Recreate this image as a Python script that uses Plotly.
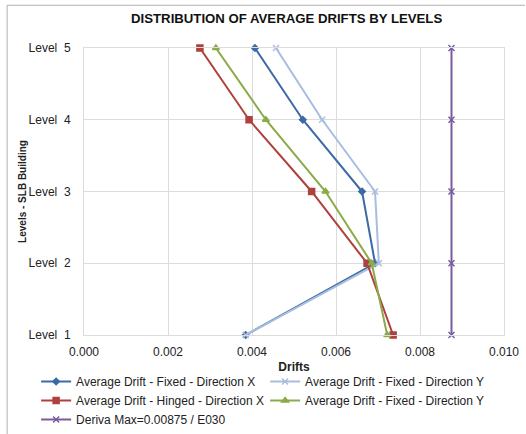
import plotly.graph_objects as go

# --- Data ---
levels = [1, 2, 3, 4, 5]
level_labels = ["Level\u00a0 1", "Level\u00a0 2", "Level\u00a0 3", "Level\u00a0 4", "Level\u00a0 5"]

fixed_x = [0.00385, 0.00693, 0.00662, 0.00521, 0.00407]
fixed_y_light = [0.00385, 0.00702, 0.00693, 0.00567, 0.00457]
hinged_x = [0.00736, 0.00674, 0.00542, 0.00393, 0.00276]
fixed_y_green = [0.00722, 0.00685, 0.00575, 0.00433, 0.00314]
deriva_max = [0.00875, 0.00875, 0.00875, 0.00875, 0.00875]

series = [
    ("Average Drift - Fixed - Direction X", fixed_x, "#3c6aa6", "diamond", 5),
    ("Average Drift - Fixed - Direction Y", fixed_y_light, "#a9bde0", "x-thin-open", 6),
    ("Average Drift - Hinged - Direction X", hinged_x, "#b0403c", "square", 6),
    ("Average Drift - Fixed - Direction Y", fixed_y_green, "#8aab47", "triangle-up", 6),
    ("Deriva Max=0.00875 / E030", deriva_max, "#7a5c9c", "x-thin-open", 6),
]

fig = go.Figure()
for name, vals, color, sym, size in series:
    fig.add_trace(go.Scatter(
        x=vals, y=levels, name=name, mode="lines+markers",
        line=dict(color=color, width=2),
        marker=dict(symbol=sym, size=size, color=color, line=dict(color=color, width=1.5)),
        cliponaxis=False,
    ))

font = "Liberation Sans, Arial, sans-serif"
fig.update_layout(
    width=526, height=434,
    margin=dict(l=84, r=22, t=48, b=99, autoexpand=False),
    paper_bgcolor="white", plot_bgcolor="white",
    font=dict(family=font, size=12, color="#222"),
    title=dict(text="<b>DISTRIBUTION OF AVERAGE DRIFTS BY LEVELS</b>",
               x=0.545, xref="container", y=0.958, yref="container",
               xanchor="center", yanchor="middle",
               font=dict(size=13.2, color="#111")),
    xaxis=dict(range=[0, 0.010], dtick=0.002, tickformat=".3f",
               showgrid=True, gridcolor="#dcdcdc", gridwidth=1,
               showline=True, linecolor="#dcdcdc", mirror=True,
               zeroline=False, ticks="", tickfont=dict(size=12), ticklabelstandoff=6,
               title=dict(text="<b>Drifts</b>", font=dict(size=12), standoff=4)),
    yaxis=dict(range=[1, 5], tickvals=levels, ticktext=level_labels,
               showgrid=True, gridcolor="#dcdcdc", gridwidth=1,
               showline=True, linecolor="#dcdcdc", mirror=True,
               zeroline=False, ticks="", ticklabelstandoff=10, tickfont=dict(size=12),
               title=dict(text="<b>Levels - SLB Building</b>", font=dict(size=10), standoff=0)),
    legend=dict(orientation="h", x=-0.114, y=-0.1115, xanchor="left", yanchor="top",
                entrywidth=184, entrywidthmode="pixels", tracegroupgap=0,
                itemwidth=30, font=dict(size=12, color="#222"), bgcolor="rgba(0,0,0,0)"),
    showlegend=True,
)

# outer chart frame (top and left edges visible in the reference)
fig.add_shape(type="path", xref="paper", yref="paper",
              path="M -0.183,-0.5 L -0.183,1.149 L 1.05,1.149",
              line=dict(color="#b0b0b0", width=1))

fig.write_html("out.html", config={"displayModeBar": False},
               post_script="document.body.style.margin='0px';")
